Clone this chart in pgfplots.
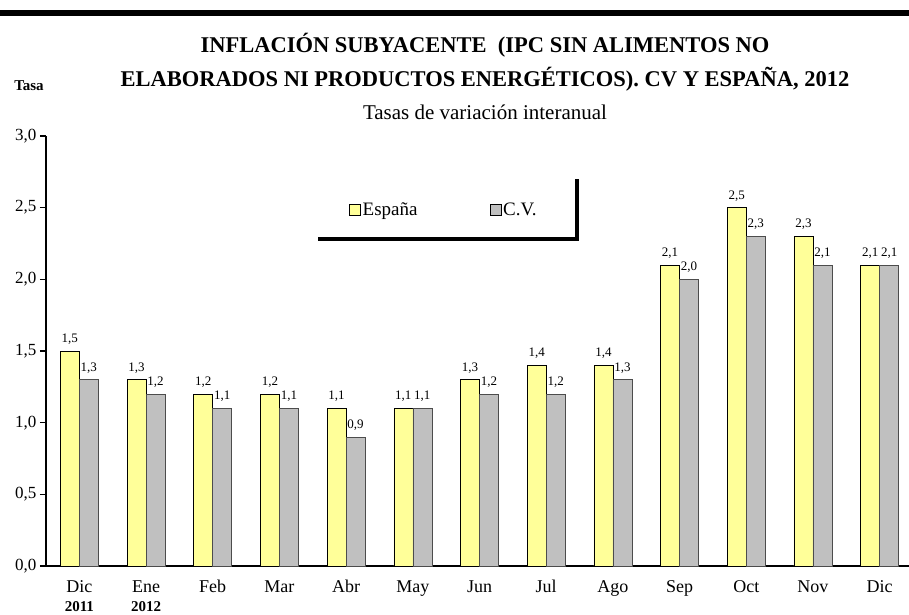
\documentclass[border=0pt]{standalone}
\usepackage{fontspec}
\setmainfont{Liberation Serif}
\usepackage{pgfplots}
\pgfplotsset{compat=1.18}
\definecolor{espyellow}{RGB}{255,255,153}
\definecolor{cvgray}{RGB}{192,192,192}

\begin{document}
\begin{tikzpicture}[x=1pt,y=1pt]
\begin{axis}[
    scale only axis,
    width=863pt, height=430pt,
    clip=false,
    ybar=0pt, bar width=19pt,
    xmin=-0.5, xmax=12.44,
    ymin=0, ymax=3,
    axis lines*=left,
    axis line style={-, line width=1.6pt},
    xtick={0,...,12},
    xticklabels={Dic,Ene,Feb,Mar,Abr,May,Jun,Jul,Ago,Sep,Oct,Nov,Dic},
    x tick label style={font=\fontsize{18}{20}\selectfont, anchor=north,
        text height=13pt, text depth=4pt, yshift=-4pt},
    major x tick style={draw=none},
    extra x ticks={0.5,1.5,...,11.5},
    extra x tick labels={},
    extra x tick style={tick style={line width=1.6pt, black}, major tick length=7pt},
    ytick={0,0.5,...,3},
    y tick label style={font=\fontsize{17}{20}\selectfont,
        /pgf/number format/fixed, /pgf/number format/fixed zerofill,
        /pgf/number format/precision=1, /pgf/number format/use comma},
    /pgf/number format/assume math mode=true,
    tick align=outside,
    y tick style={line width=1.6pt, black},
    major tick length=6pt,
    nodes near coords,
    every node near coord/.append style={font=\fontsize{13}{14}\selectfont, yshift=3pt, black,
        /pgf/number format/fixed, /pgf/number format/fixed zerofill,
        /pgf/number format/precision=1, /pgf/number format/use comma},
    legend columns=2,
    legend style={at={(rel axis cs:0.351,0.828)}, anchor=west,
        draw=none, fill=none, inner sep=0pt,
        font=\fontsize{19}{22}\selectfont,
        /tikz/every even column/.append style={column sep=70pt}},
    legend image code/.code={\draw[#1, draw=black, line width=0.6pt] (0pt,-5.5pt) rectangle (11pt,5.5pt);},
]
\addplot[fill=espyellow, draw=black, line width=0.6pt] coordinates {
    (0,1.5) (1,1.3) (2,1.2) (3,1.2) (4,1.1) (5,1.1) (6,1.3)
    (7,1.4) (8,1.4) (9,2.1) (10,2.5) (11,2.3) (12,2.1)};
\addlegendentry{España}
\addplot[fill=cvgray, draw=black!70, line width=0.6pt] coordinates {
    (0,1.3) (1,1.2) (2,1.1) (3,1.1) (4,0.9) (5,1.1) (6,1.2)
    (7,1.2) (8,1.3) (9,2.0) (10,2.3) (11,2.1) (12,2.1)};
\addlegendentry{C.V.}
% year under the first two months
\node[anchor=base, font=\fontsize{15}{18}\selectfont\bfseries, yshift=-45pt] at (axis cs:0,0) {2011};
\node[anchor=base, font=\fontsize{15}{18}\selectfont\bfseries, yshift=-45pt] at (axis cs:1,0) {2012};
\end{axis}
% decoration: top rule, legend frame shadow, titles
\fill[black] (-46,550) rectangle (863,556);
\fill[black] (529,325) rectangle (533,387);
\fill[black] (272,325) rectangle (533,329);
\node[font=\fontsize{22.5}{26}\selectfont\bfseries] at (439,521) {INFLACIÓN SUBYACENTE \ (IPC SIN ALIMENTOS NO};
\node[font=\fontsize{22.5}{26}\selectfont\bfseries] at (439,487) {ELABORADOS NI PRODUCTOS ENERGÉTICOS). CV Y ESPAÑA, 2012};
\node[font=\fontsize{21}{24}\selectfont] at (439,454) {Tasas de variación interanual};
\node[font=\fontsize{15}{18}\selectfont\bfseries] at (-17,480) {Tasa};
\pgfresetboundingbox
\path (-46,-48) rectangle (863,566);
\end{tikzpicture}
\end{document}
